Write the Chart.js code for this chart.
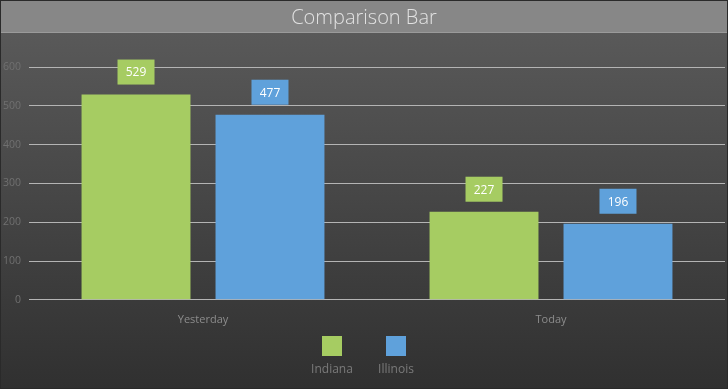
<!DOCTYPE html>
<html>
<head>
<meta charset="utf-8">
<script src="https://cdn.jsdelivr.net/npm/chart.js@4/dist/chart.umd.min.js"></script>
<style>
  html, body { margin: 0; padding: 0; background: #333; }
  #wrap { width: 728px; height: 389px; }
</style>
</head>
<body>
<div id="wrap"><canvas id="chart"></canvas></div>
<script>
const titleText = 'Comparison Bar'
const categories = ['Yesterday', 'Today']
const seriesNames = ['Indiana', 'Illinois']
const indiana = [529, 227]
const illinois = [477, 196]
const colors = ['#a6cc62', '#5fa1db']
const yTicks = [0, 100, 200, 300, 400, 500, 600]

const FONT = "'Open Sans', 'Noto Sans', sans-serif"

// background, title band, value boxes and the legend under the axis
const decor = {
	id: 'decor',
	beforeDraw(chart) {
		const { ctx, width, height } = chart
		ctx.save()
		const g = ctx.createLinearGradient(0, 33, 0, height)
		g.addColorStop(0, '#595959')
		g.addColorStop(1, '#303030')
		ctx.fillStyle = g
		ctx.fillRect(0, 0, width, height)
		ctx.fillStyle = '#878787'
		ctx.fillRect(0, 0, width, 33)
		ctx.fillStyle = '#9a9a9a'
		ctx.fillRect(0, 32, width, 1)
		ctx.fillStyle = '#e2e2e2'
		ctx.font = `300 20px ${FONT}`
		ctx.textAlign = 'center'
		ctx.textBaseline = 'middle'
		ctx.fillText(titleText, width / 2, 18)
		ctx.strokeStyle = '#2a2a2a'
		ctx.lineWidth = 2
		ctx.strokeRect(0, 0, width, height)
		ctx.restore()
	},
	afterDatasetsDraw(chart) {
		const { ctx } = chart
		ctx.save()
		ctx.font = `12px ${FONT}`
		ctx.textAlign = 'center'
		ctx.textBaseline = 'middle'
		chart.data.datasets.forEach((ds, i) => {
			chart.getDatasetMeta(i).data.forEach((bar, j) => {
				const bw = 37, bh = 25
				const top = bar.y - 10 - bh
				ctx.fillStyle = ds.backgroundColor
				ctx.fillRect(bar.x - bw / 2, top, bw, bh)
				ctx.fillStyle = '#ffffff'
				ctx.fillText(String(ds.data[j]), bar.x, top + bh / 2 + 1)
			})
		})
		// legend
		const cx = chart.width / 2
		const items = chart.data.datasets
		const step = 64
		const x0 = cx - step * (items.length - 1) / 2
		items.forEach((ds, i) => {
			const x = x0 + i * step
			ctx.fillStyle = ds.backgroundColor
			ctx.fillRect(x - 10, 336, 20, 20)
			ctx.fillStyle = '#7a7a7a'
			ctx.fillText(ds.label, x, 370)
		})
		ctx.restore()
	}
}

new Chart(document.getElementById('chart'), {
	type: 'bar',
	data: {
		labels: categories,
		datasets: [
			{ label: seriesNames[0], data: indiana, backgroundColor: colors[0] },
			{ label: seriesNames[1], data: illinois, backgroundColor: colors[1] },
		],
	},
	options: {
		responsive: true,
		maintainAspectRatio: false,
		animation: false,
		layout: { padding: { top: 67, left: 0, right: 3, bottom: 50 } },
		datasets: { bar: { categoryPercentage: 0.77, barPercentage: 0.813 } },
		plugins: {
			legend: { display: false },
			title: { display: false },
			tooltip: { enabled: false },
		},
		scales: {
			x: {
				grid: { display: false, drawTicks: false },
				border: { display: false },
				ticks: { color: '#8c8c8c', font: { family: FONT, size: 11 }, padding: 13 },
			},
			y: {
				min: 0,
				max: 600,
				afterBuildTicks(scale) { scale.ticks = yTicks.map(v => ({ value: v })) },
				afterFit(scale) { scale.width = 29 },
				grid: { color: '#b4b4b4', lineWidth: 1, drawTicks: false },
				border: { display: false },
				ticks: { color: '#707070', font: { family: FONT, size: 10.5 }, padding: 8 },
			},
		},
	},
	plugins: [decor],
})
</script>
</body>
</html>
